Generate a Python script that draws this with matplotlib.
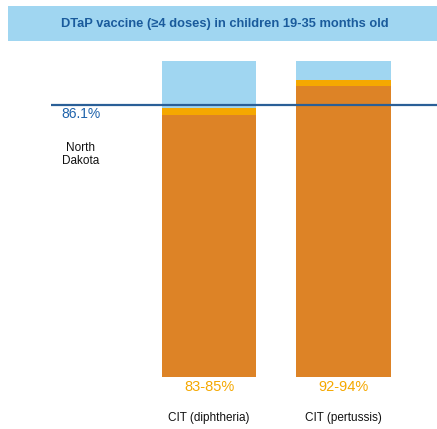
import matplotlib
matplotlib.use("Agg")
import matplotlib.pyplot as plt
from matplotlib.patches import Rectangle

plt.rcParams["font.family"] = ["Liberation Sans", "DejaVu Sans"]

categories = ["CIT (diphtheria)", "CIT (pertussis)"]
low = [83, 92]
high = [85, 94]
range_labels = ["83-85%", "92-94%"]
state_value = 86.1
state_name = "North\nDakota"
title = "DTaP vaccine (≥4 doses) in children 19-35 months old"

W, H = 437, 429
fig = plt.figure(figsize=(W / 100, H / 100), dpi=100)

# title banner
fig.patches.append(Rectangle((8 / W, 1 - 41 / H), (W - 8) / W, 35 / H,
                             transform=fig.transFigure, facecolor="#a0d6f1",
                             edgecolor="none", zorder=0))
fig.text(225 / W, 1 - 24.5 / H, title, ha="center", va="center",
         fontsize=9.3, fontweight="bold", color="#1a5b9c")

ax = fig.add_axes([51 / W, 52 / H, (W - 51) / W, (377 - 61) / H])
ax.set_xlim(-1.175, 1.695)
ax.set_ylim(0, 100)
ax.axis("off")

x = range(len(categories))
bw = 0.7
ax.bar(x, [100] * len(categories), width=bw, color="#a0d6f1", zorder=1)
ax.bar(x, high, width=bw, color="#f5a800", zorder=2)
ax.bar(x, low, width=bw, color="#dd8326", zorder=3)

ax.axhline(state_value, color="#2a5f97", linewidth=1.6, zorder=4)

ax.text(-1.1, state_value - 3.0, f"{state_value}%", ha="left", va="center",
        fontsize=10, color="#1f63ab")
ax.text(-0.955, state_value - 15.7, state_name, ha="center", va="center",
        fontsize=8.5, color="#111111", linespacing=1.15)

for i, (lab, cat) in enumerate(zip(range_labels, categories)):
    ax.text(i, -3.2, lab, ha="center", va="center", fontsize=10.5,
            color="#f5a800")
    ax.text(i, -13, cat, ha="center", va="center", fontsize=8.5,
            color="#111111")

fig.savefig("out.png", dpi=100)
